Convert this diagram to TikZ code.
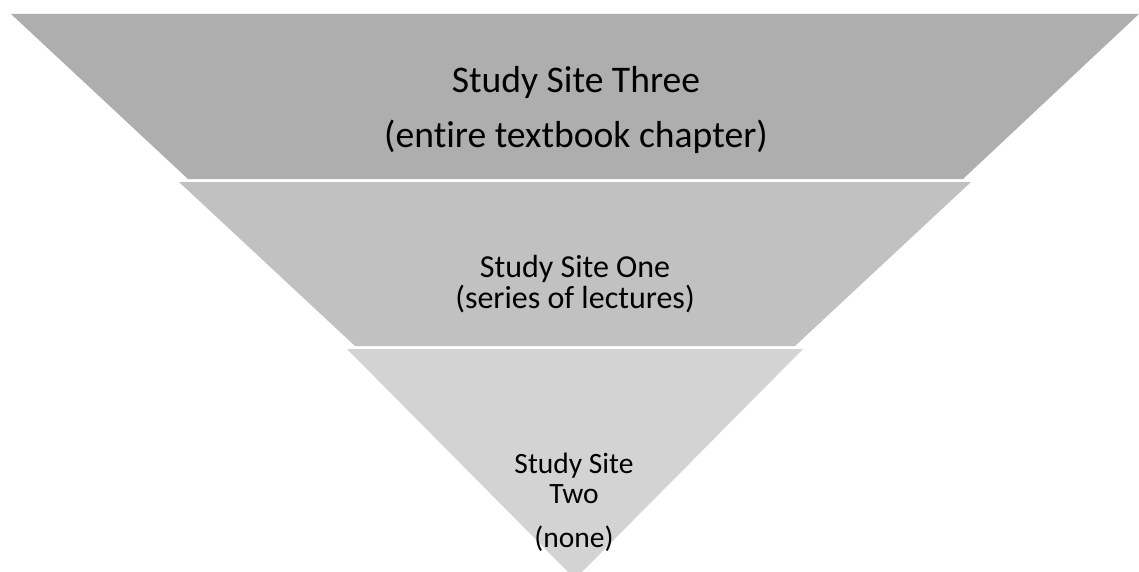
\documentclass[tikz,border=0pt]{standalone}
\usepackage{fontspec}
\setmainfont{Carlito}[Ligatures=NoCommon]
\usetikzlibrary{positioning}
\definecolor{bandtop}{HTML}{AEAEAE}
\definecolor{bandmid}{HTML}{C1C1C1}
\definecolor{bandlow}{HTML}{D3D3D3}
\tikzset{
  bandlabel/.style={align=center, anchor=base, text=black, inner sep=0pt},
}
\begin{document}
\begin{tikzpicture}[x=1pt, y=-1pt]
  \useasboundingbox (0,0) rectangle (1139,572);

  % bands of the inverted pyramid
  \fill [bandtop] (11,14) -- (1139,14) -- (963,179) -- (188,179) -- cycle;
  \fill [bandmid] (179,182) -- (971,182) -- (795,346) -- (355,346) -- cycle;
  \fill [bandlow] (347,349) -- (803,349) -- (575,579) -- cycle;

  % labels, placed by the baseline of their last line
  \node (three) [bandlabel, font=\fontsize{37.6}{55}\selectfont] at (576,148) {Study Site Three\\(entire textbook chapter)};
  \node (one) [bandlabel, font=\fontsize{32}{31}\selectfont] at (575,308) {Study Site One\\(series of lectures)};
  \node (two) [bandlabel, font=\fontsize{29.5}{30}\selectfont] at (574,547) {Study Site\\Two\\[14pt](none)};

\end{tikzpicture}
\end{document}
